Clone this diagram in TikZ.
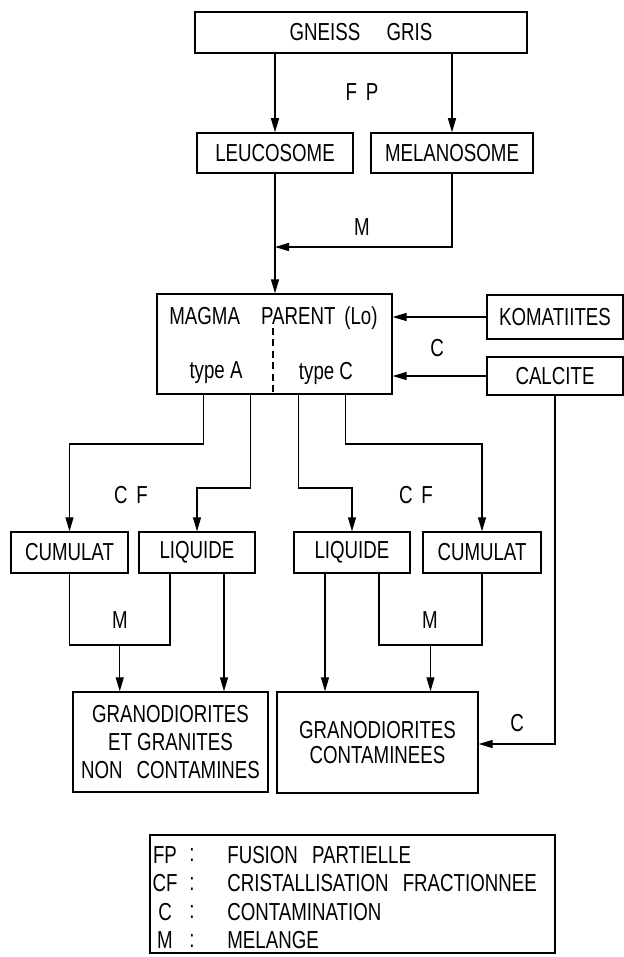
\documentclass[tikz,border=0pt]{standalone}
\usepackage{fontspec}
\setmainfont{Liberation Sans}[FakeStretch=0.76]
\usepackage{tikz}
\usetikzlibrary{arrows.meta,calc}
\tikzset{
  box/.style={draw,line width=0.8pt,inner sep=0pt,align=center},
  lab/.style={inner sep=0pt},
  link/.style={line width=0.6pt},
  arr/.style={-{Triangle[length=8pt,width=4.6pt]},line width=0.6pt},
  divide/.style={line width=0.6pt,dash pattern=on 4pt off 2.5pt}
}

\begin{document}
\begin{tikzpicture}[
  x=0.02cm,y=-0.02cm,
  font=\fontsize{14}{16}\selectfont
]
  \useasboundingbox (0,0) rectangle (624,957);

  \node[box,minimum width=6.64cm,minimum height=0.82cm] (gneiss) at (361,32.5) {GNEISS\hspace{15pt}GRIS};
  \node[lab] (fp) at (362,92) {F\hspace{5pt}P};
  \node[box,minimum width=3.12cm,minimum height=0.8cm] (leuco) at (275,153) {LEUCOSOME};
  \node[box,minimum width=3.24cm,minimum height=0.8cm] (melano) at (452,153) {MELANOSOME};
  \node[lab] (mtop) at (362,227) {M};

  \draw[arr] (gneiss.south -| leuco.north) -- (leuco.north);
  \draw[arr] (gneiss.south -| melano.north) -- (melano.north);

  \node[box,minimum width=4.7cm,minimum height=2cm] (magma) at (274.5,344) {};
  \node[lab] (parent) at (273.5,318) {MAGMA\hspace{12pt}PARENT\hspace{5pt}(Lo)};
  \node[lab] (typea) at (216,373) {type A};
  \node[lab] (typec) at (326,373) {type C};
  \coordinate (dtop) at (273,328);
  \draw[divide] (dtop) -- (dtop |- magma.south);

  \coordinate (lvlm) at (0,247);
  \draw[arr] (melano.south) -- (melano.south |- lvlm) -- (lvlm -| leuco.south);
  \draw[arr] (leuco.south) -- (leuco.south |- magma.north);

  \node[box,minimum width=2.72cm,minimum height=0.88cm] (koma) at (555,317) {KOMATIITES};
  \node[box,minimum width=2.72cm,minimum height=0.76cm] (calc) at (555,376) {CALCITE};
  \node[lab] (cmid) at (437,348) {C};

  \draw[arr] (koma.west) -- (koma.west -| magma.east);
  \draw[arr] (calc.west) -- (calc.west -| magma.east);

  \node[box,minimum width=2.34cm,minimum height=0.82cm] (cumA) at (69.5,552.5) {CUMULAT};
  \node[box,minimum width=2.32cm,minimum height=0.82cm] (liqA) at (197,552.5) {LIQUIDE};
  \node[box,minimum width=2.32cm,minimum height=0.82cm] (liqC) at (352,552.5) {LIQUIDE};
  \node[box,minimum width=2.36cm,minimum height=0.82cm] (cumC) at (482,552.5) {CUMULAT};
  \node[lab] (cfA) at (131,495) {C\hspace{5pt}F};
  \node[lab] (cfC) at (416,495) {C\hspace{5pt}F};

  \foreach \f/\n in {0.2/1,0.4/2,0.6/3,0.8/4}{
    \coordinate (br\n) at ($(magma.south west)!\f!(magma.south east)$);
  }
  \coordinate (lvlhi) at (0,444);
  \coordinate (lvllo) at (0,488);

  \draw[arr] (br1) -- (br1 |- lvlhi) -| (cumA.north);
  \draw[arr] (br2) -- (br2 |- lvllo) -| (liqA.north);
  \draw[arr] (br3) -- (br3 |- lvllo) -| (liqC.north);
  \draw[arr] (br4) -- (br4 |- lvlhi) -| (cumC.north);

  \node[box,minimum width=3.9cm,minimum height=2cm] (granoA) at (170.5,742) {GRANODIORITES\\ET GRANITES\\NON\hspace{8pt}CONTAMINES};
  \node[box,minimum width=4.02cm,minimum height=2.02cm] (granoC) at (377.5,742.5) {GRANODIORITES\\[-1.5pt]CONTAMINEES};

  \coordinate (lqA1) at ($(liqA.south west)!0.27!(liqA.south east)$);
  \coordinate (lqA2) at ($(liqA.south west)!0.73!(liqA.south east)$);
  \coordinate (lqC1) at ($(liqC.south west)!0.27!(liqC.south east)$);
  \coordinate (lqC2) at ($(liqC.south west)!0.73!(liqC.south east)$);
  \coordinate (lvlmix) at (0,645);
  \coordinate (mixA) at ($(cumA.south |- lvlmix)!0.5!(lqA1 |- lvlmix)$);
  \coordinate (mixC) at ($(lqC2 |- lvlmix)!0.5!(cumC.south |- lvlmix)$);

  \draw[link] (cumA.south) -- (cumA.south |- lvlmix) -| (lqA1);
  \draw[link] (lqC2) -- (lqC2 |- lvlmix) -| (cumC.south);
  \node[lab] (mixAlab) at (120,620) {M};
  \node[lab] (mixClab) at (430,620) {M};

  \draw[arr] (mixA) -- (mixA |- granoA.north);
  \draw[arr] (lqA2) -- (lqA2 |- granoA.north);
  \draw[arr] (lqC1) -- (lqC1 |- granoC.north);
  \draw[arr] (mixC) -- (mixC |- granoC.north);

  \coordinate (lvlc) at (0,744);
  \draw[arr] (calc.south) -- (calc.south |- lvlc) -- (lvlc -| granoC.east);
  \node[lab] (cbot) at (517,723) {C};

  \node[box,minimum width=8.1cm,minimum height=2.36cm] (legend) at (352.5,894) {};
  \foreach \ab/\txt [count=\i] in {FP/FUSION\hspace{8pt}PARTIELLE,CF/CRISTALLISATION\hspace{8pt}FRACTIONNEE,C/CONTAMINATION,M/MELANGE}{
    \node[lab] (ab\i) at (165,826.5+28.5*\i) {\ab};
    \node[lab] (col\i) at (192,826.5+28.5*\i) {:};
    \node[lab,anchor=west] (def\i) at (227,826.5+28.5*\i) {\txt};
  }

\end{tikzpicture}
\end{document}
